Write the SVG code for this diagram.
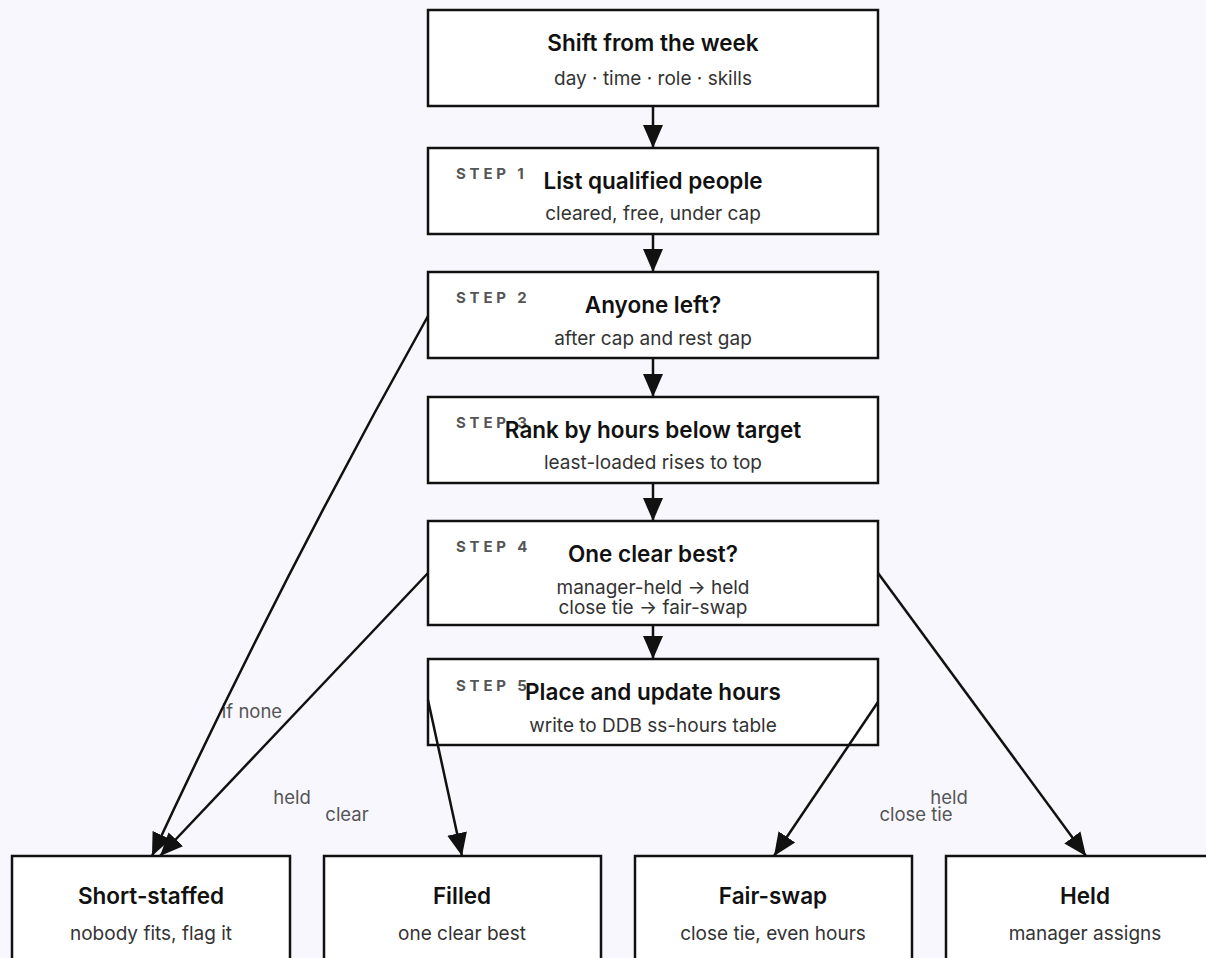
<svg xmlns="http://www.w3.org/2000/svg" width="1206" height="958" viewBox="0 0 1206 958">
  <style>
    .box { fill: #ffffff; stroke: #111111; stroke-width: 2.5; }
    .title { font-family: Inter, "Liberation Sans", sans-serif; font-size: 22.5px; font-weight: 600; fill: #111111; text-anchor: middle; }
    .sub { font-family: Inter, "Liberation Sans", sans-serif; font-size: 19px; fill: #333333; text-anchor: middle; }
    .step { font-family: Inter, "Liberation Sans", sans-serif; font-size: 15px; font-weight: 700; fill: #555555; letter-spacing: 3.8px; }
    .edge { fill: none; stroke: #111111; stroke-width: 2.5; }
    .elabel { font-family: Inter, "Liberation Sans", sans-serif; font-size: 18.5px; fill: #555555; text-anchor: middle; }
  </style>
  <defs>
    <marker id="arrow" markerUnits="userSpaceOnUse" markerWidth="24" markerHeight="22" refX="23" refY="11" orient="auto">
      <path d="M0,1 L23,11 L0,21 z" fill="#111111"/>
    </marker>
  </defs>

  <rect width="1206" height="958" fill="#f8f7fd"/>

  <g id="shift">
    <rect class="box" x="428" y="10" width="450" height="96"/>
    <text class="title" x="653" y="51">Shift from the week</text>
    <text class="sub" x="653" y="85">day · time · role · skills</text>
  </g>

  <g id="step1">
    <rect class="box" x="428" y="148" width="450" height="86"/>
    <text class="step" x="456" y="179">STEP 1</text>
    <text class="title" x="653" y="189">List qualified people</text>
    <text class="sub" x="653" y="220">cleared, free, under cap</text>
  </g>

  <g id="step2">
    <rect class="box" x="428" y="272" width="450" height="86"/>
    <text class="step" x="456" y="303">STEP 2</text>
    <text class="title" x="653" y="313">Anyone left?</text>
    <text class="sub" x="653" y="345">after cap and rest gap</text>
  </g>

  <g id="step3">
    <rect class="box" x="428" y="397" width="450" height="86"/>
    <text class="step" x="456" y="428">STEP 3</text>
    <text class="title" x="653" y="438">Rank by hours below target</text>
    <text class="sub" x="653" y="469">least-loaded rises to top</text>
  </g>

  <g id="step4">
    <rect class="box" x="428" y="521" width="450" height="104"/>
    <text class="step" x="456" y="552">STEP 4</text>
    <text class="title" x="653" y="562">One clear best?</text>
    <text class="sub" x="653" y="594">manager-held → held</text>
    <text class="sub" x="653" y="614">close tie → fair-swap</text>
  </g>

  <g id="step5">
    <rect class="box" x="428" y="659" width="450" height="86"/>
    <text class="step" x="456" y="691">STEP 5</text>
    <text class="title" x="653" y="700">Place and update hours</text>
    <text class="sub" x="653" y="732">write to DDB ss-hours table</text>
  </g>

  <g id="short-staffed">
    <rect class="box" x="12" y="856" width="278" height="130"/>
    <text class="title" x="151" y="904">Short-staffed</text>
    <text class="sub" x="151" y="940">nobody fits, flag it</text>
  </g>

  <g id="filled">
    <rect class="box" x="324" y="856" width="277" height="130"/>
    <text class="title" x="462" y="904">Filled</text>
    <text class="sub" x="462" y="940">one clear best</text>
  </g>

  <g id="fair-swap">
    <rect class="box" x="635" y="856" width="277" height="130"/>
    <text class="title" x="773" y="904">Fair-swap</text>
    <text class="sub" x="773" y="940">close tie, even hours</text>
  </g>

  <g id="held">
    <rect class="box" x="946" y="856" width="277" height="130"/>
    <text class="title" x="1085" y="904">Held</text>
    <text class="sub" x="1085" y="940">manager assigns</text>
  </g>

  <g id="connectors">
    <text class="elabel" x="252" y="718">if none</text>
    <text class="elabel" x="292" y="804">held</text>
    <text class="elabel" x="347" y="821">clear</text>
    <text class="elabel" x="949" y="804">held</text>
    <text class="elabel" x="916" y="821">close tie</text>
    <path class="edge" marker-end="url(#arrow)" d="M653,106 L653,148"/>
    <path class="edge" marker-end="url(#arrow)" d="M653,234 L653,272"/>
    <path class="edge" marker-end="url(#arrow)" d="M653,358 L653,397"/>
    <path class="edge" marker-end="url(#arrow)" d="M653,483 L653,521"/>
    <path class="edge" marker-end="url(#arrow)" d="M653,625 L653,659"/>
    <path class="edge" marker-end="url(#arrow)" d="M428,316 Q280,580 152,856"/>
    <path class="edge" marker-end="url(#arrow)" d="M428,573 L160,856"/>
    <path class="edge" marker-end="url(#arrow)" d="M428,700 L462,856"/>
    <path class="edge" marker-end="url(#arrow)" d="M878,702 L774,856"/>
    <path class="edge" marker-end="url(#arrow)" d="M878,573 L1086,856"/>
  </g>
</svg>
